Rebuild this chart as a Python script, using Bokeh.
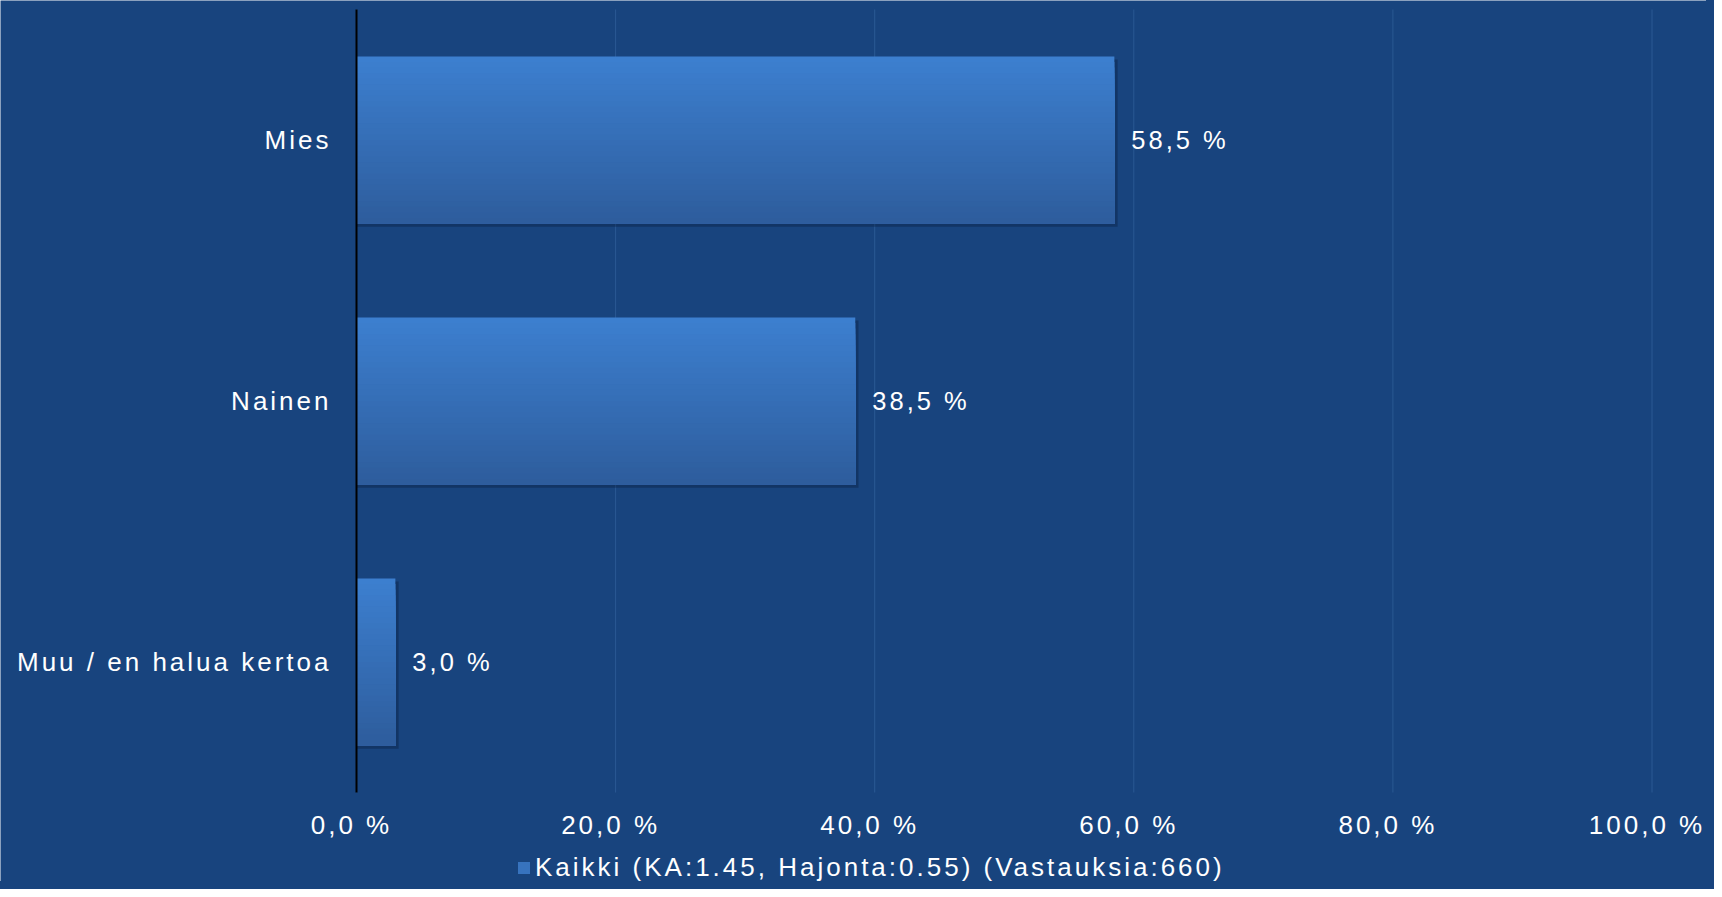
from bokeh.plotting import figure
from bokeh.models import (Range1d, ColumnDataSource, Legend, LegendItem,
                          InlineStyleSheet)
from bokeh.transform import dodge
from bokeh.core.properties import value
from bokeh.embed import file_html
from bokeh.resources import INLINE

# ---- data ----
categories = ["Mies", "Nainen", "Muu / en halua kertoa"]
values = [58.5, 38.5, 3.0]
value_labels = ["58,5 %", "38,5 %", "3,0 %"]
x_ticks = [0, 20, 40, 60, 80, 100]
x_tick_labels = ["0,0 %", "20,0 %", "40,0 %", "60,0 %", "80,0 %", "100,0 %"]
legend_label = "Kaikki (KA:1.45, Hajonta:0.55) (Vastauksia:660)"

# ---- layout / style ----
W, H = 1706, 881
X0_PX, X100_PX = 356.0, 1651.5      # pixel position of 0 % and 100 %
TOP_PX, BOTTOM_PX = 9.0, 792.0      # top / bottom of category area
LS = 3.0                            # letter spacing (px)
BG = "#18447E"
GRID = "#2A5993"
TOP = (60, 127, 207)
BOT = (46, 93, 157)
FONT = value("Liberation Sans")
BAR_H = 0.64
N_STRIPES = 30

n = len(categories)
kx = (X100_PX - X0_PX) / 100.0
ky = (BOTTOM_PX - TOP_PX) / n
x_range = Range1d(-X0_PX / kx, (W - X0_PX) / kx)
y_range = Range1d(-(H - BOTTOM_PX) / ky, n + TOP_PX / ky)

y_pos = [n - 0.5 - i for i in range(n)]
src = ColumnDataSource(dict(
    y=y_pos, cat=categories, val=values, lab=value_labels,
    shadow=[v + 0.25 for v in values],
    # bokeh aligns text without the css letter spacing: compensate
    cat_off=[-25 - LS * len(s) for s in categories],
))
tick_src = ColumnDataSource(dict(
    x=x_ticks, lab=x_tick_labels,
    y0=[0] * len(x_ticks), y1=[n] * len(x_ticks),
    lab_off=[-5 - LS * len(s) / 2 for s in x_tick_labels],
))

p = figure(width=W, height=H, x_range=x_range, y_range=y_range,
           x_axis_location=None, y_axis_location=None,
           output_backend="svg", toolbar_location=None,
           min_border=0, min_border_left=0, min_border_right=0,
           min_border_top=0, min_border_bottom=0,
           background_fill_color=BG, border_fill_color=BG,
           outline_line_color=None)
p.grid.visible = False
p.stylesheets = [InlineStyleSheet(
    css=":host { letter-spacing: %gpx; box-shadow: 0 0 0 8px %s; "
        "outline: 8px solid %s; }" % (LS, BG, BG))]

# vertical grid lines
p.segment(x0="x", y0="y0", x1="x", y1="y1", source=tick_src,
          line_color=GRID, line_width=1)

# soft shadow under the bars
p.hbar(y=dodge("y", -0.012, range=p.y_range), left=0, right="shadow",
       height=BAR_H, fill_color="#0a2142", fill_alpha=0.4, line_color=None,
       source=src)

# gradient bars: stacked layers, each from its top down to the bar bottom
h = BAR_H / N_STRIPES
stripe_renderers = []
for i in range(N_STRIPES):
    t = i / (N_STRIPES - 1)
    c = tuple(int(round(TOP[k] + (BOT[k] - TOP[k]) * t)) for k in range(3))
    col = "#%02x%02x%02x" % c
    r = p.hbar(y=dodge("y", -i * h / 2, range=p.y_range), left=0, right="val",
               height=BAR_H - i * h, fill_color=col, line_color=None,
               source=src)
    stripe_renderers.append(r)

# y axis line
p.segment(x0=0, y0=0, x1=0, y1=n, line_color="black", line_width=2)

# category labels
p.text(x=0, y="y", text="cat", source=src, x_offset="cat_off",
       text_align="right", text_baseline="middle",
       text_color="white", text_font=FONT, text_font_size="26px")

# value labels
p.text(x="val", y="y", text="lab", source=src, x_offset=17,
       text_align="left", text_baseline="middle",
       text_color="white", text_font=FONT, text_font_size="25.5px")

# x tick labels
p.text(x="x", y="y0", text="lab", source=tick_src, y_offset=32,
       x_offset="lab_off",
       text_align="center", text_baseline="alphabetic",
       text_color="white", text_font=FONT, text_font_size="26px")

legend = Legend(items=[LegendItem(label=legend_label,
                                  renderers=[stripe_renderers[N_STRIPES // 3]])],
                location=(516, -2), orientation="horizontal",
                background_fill_alpha=0, border_line_color=None,
                padding=0, margin=0, spacing=0,
                glyph_width=15, glyph_height=15, label_standoff=4,
                label_text_font="Liberation Sans", label_text_font_size="26px",
                label_text_color="white")
p.add_layout(legend)

open("out.html", "w").write(file_html(p, INLINE))
